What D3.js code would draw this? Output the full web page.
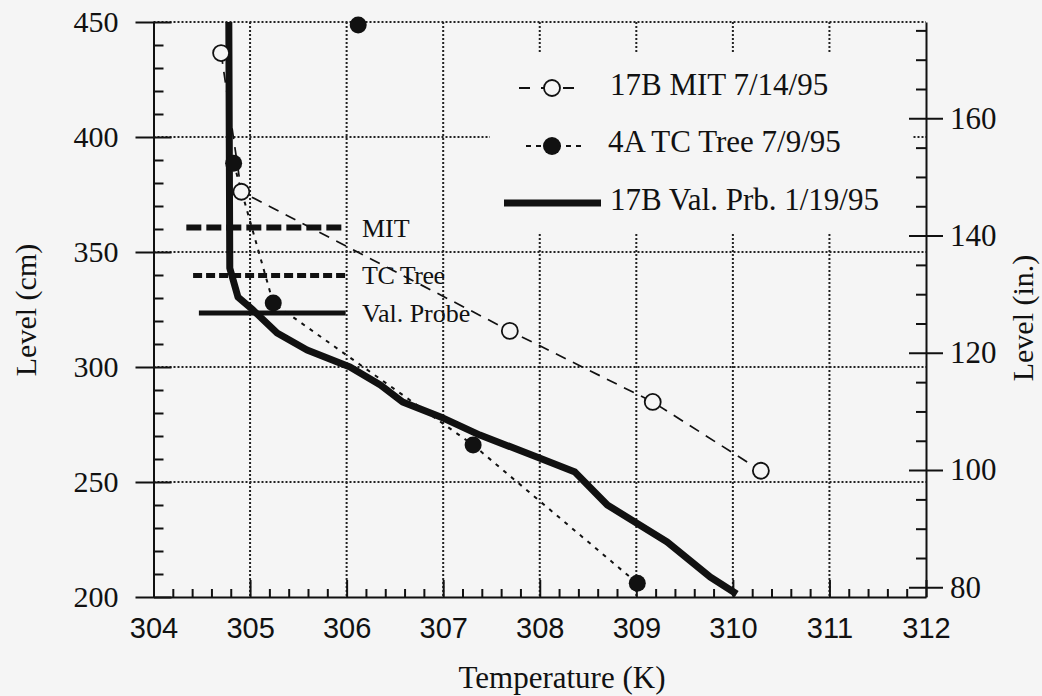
<!DOCTYPE html>
<html><head><meta charset="utf-8">
<script src="https://cdn.jsdelivr.net/npm/d3@7"></script>
<style>body{margin:0;background:#f5f5f5}svg{display:block}</style>
</head><body><svg id="c" width="1042" height="696"></svg>
<script>
// ---- data ----
const mitT = [304.70, 304.91, 307.69, 309.17, 310.29];
const mitL = [436.5, 376.2, 315.7, 284.8, 254.9];
const tcT  = [306.12, 304.83, 305.24, 307.31, 309.01];
const tcL  = [448.7, 388.6, 327.8, 266.1, 206.0];
const tcLineStart = 1; // first TC point is plotted without a connecting line
const valT = [304.78, 304.79, 304.875, 305.03, 305.28, 305.59, 306.035, 306.35, 306.58, 307.00, 307.38, 307.97, 308.365, 308.70, 309.32, 309.765, 310.04];
const valL = [450, 343.0, 330.4, 324.8, 314.8, 307.4, 300.0, 292.2, 284.8, 277.8, 270.4, 260.9, 254.3, 240.0, 223.9, 208.7, 201.3];
const xTicks = [304, 305, 306, 307, 308, 309, 310, 311, 312];
const yTicks = [200, 250, 300, 350, 400, 450];
const inTicks = [80, 100, 120, 140, 160];
const legendLabels = ["17B MIT 7/14/95", "4A TC Tree 7/9/95", "17B Val. Prb. 1/19/95"];
const noteLabels = ["MIT", "TC Tree", "Val. Probe"];

// ---- layout ----
const BG = "#f5f5f5", INK = "#111";
const SERIF = "'Liberation Serif','Times New Roman',serif";
const SANS = "'Liberation Sans',Arial,sans-serif";
const svg = d3.select("#c");
svg.append("rect").attr("width", 1042).attr("height", 696).attr("fill", BG);

const x = d3.scaleLinear().domain([304, 312]).range([153.5, 926]);
const y = d3.scaleLinear().domain([200, 450]).range([597, 22]);
const yIn = d3.scaleLinear().domain([78.35, 176.43]).range([597, 22]);

// grid
const grid = svg.append("g").attr("stroke", "#222").attr("stroke-width", 2).attr("stroke-dasharray", "2,2");
grid.selectAll(".vg").data(xTicks.slice(1, -1)).join("line")
  .attr("x1", d => x(d)).attr("x2", d => x(d)).attr("y1", y(450)).attr("y2", y(200));
grid.selectAll(".hg").data(yTicks.slice(1)).join("line")
  .attr("y1", d => y(d)).attr("y2", d => y(d)).attr("x1", x(304)).attr("x2", x(312));

// legend background (masks grid)
svg.append("rect").attr("x", 490).attr("y", 54).attr("width", 422).attr("height", 178).attr("fill", BG);

// ---- axes ----
function styleAxis(g) {
  g.selectAll("path,line").attr("stroke", INK).attr("stroke-width", 2);
}
// left major
const gl = svg.append("g").attr("transform", `translate(${x(304)},0)`)
  .call(d3.axisLeft(y).tickValues(yTicks).tickSizeInner(18).tickSizeOuter(0).tickPadding(17));
gl.selectAll(".tick line").attr("x1", 18);
gl.selectAll("text").attr("font-family", SERIF).attr("font-size", 30).attr("fill", INK);
styleAxis(gl);
// left minor
const yMinor = d3.range(210, 450, 10).filter(v => v % 50 !== 0);
const glm = svg.append("g").attr("transform", `translate(${x(304)},0)`)
  .call(d3.axisLeft(y).tickValues(yMinor).tickSizeInner(-10).tickSizeOuter(0).tickFormat(""));
glm.select(".domain").remove();
styleAxis(glm);
// bottom major
const gb = svg.append("g").attr("transform", `translate(0,${y(200)})`)
  .call(d3.axisBottom(x).tickValues(xTicks).tickSizeInner(-17).tickSizeOuter(0).tickPadding(20).tickFormat(d3.format("d")));
gb.selectAll("text").attr("font-family", SANS).attr("font-size", 29).attr("fill", INK);
styleAxis(gb);
// bottom minor
const xMinor = d3.range(0, 40).map(i => 304 + i * 0.2).filter(v => Math.abs(v - Math.round(v)) > 0.01);
const gbm = svg.append("g").attr("transform", `translate(0,${y(200)})`)
  .call(d3.axisBottom(x).tickValues(xMinor).tickSizeInner(-8).tickSizeOuter(0).tickFormat(""));
gbm.select(".domain").remove();
styleAxis(gbm);
// right major (inches)
const gr = svg.append("g").attr("transform", `translate(${x(312)},0)`)
  .call(d3.axisRight(yIn).tickValues(inTicks).tickSizeInner(17).tickSizeOuter(0).tickPadding(7));
gr.selectAll(".tick line").attr("x1", -17);
gr.selectAll("text").attr("font-family", SERIF).attr("font-size", 31).attr("fill", INK);
styleAxis(gr);
// right minor
const inMinor = d3.range(80, 180, 5).filter(v => v % 20 !== 0 && yIn(v) > 22);
const grm = svg.append("g").attr("transform", `translate(${x(312)},0)`)
  .call(d3.axisLeft(yIn).tickValues(inMinor).tickSizeInner(10).tickSizeOuter(0).tickFormat(""));
grm.select(".domain").remove();
styleAxis(grm);

// axis titles
svg.append("text").attr("transform", `translate(36,${310}) rotate(-90)`).attr("text-anchor", "middle")
  .attr("font-family", SERIF).attr("font-size", 30).attr("fill", INK).text("Level (cm)");
svg.append("text").attr("transform", `translate(1033,${318}) rotate(-90)`).attr("text-anchor", "middle")
  .attr("font-family", SERIF).attr("font-size", 30).attr("fill", INK).text("Level (in.)");
svg.append("text").attr("x", 562).attr("y", 688).attr("text-anchor", "middle")
  .attr("font-family", SERIF).attr("font-size", 31).attr("fill", INK).text("Temperature (K)");

// ---- annotation keys ----
const notes = [
  {lv: 360.6, w: 6, dash: "15,5", x0: 304.34},
  {lv: 339.8, w: 5, dash: "9,4", x0: 304.41},
  {lv: 323.5, w: 5, dash: null, x0: 304.47}
];
notes.forEach((n, i) => {
  const l = svg.append("line").attr("x1", x(n.x0)).attr("x2", x(305.99))
    .attr("y1", y(n.lv)).attr("y2", y(n.lv)).attr("stroke", INK).attr("stroke-width", n.w);
  if (n.dash) l.attr("stroke-dasharray", n.dash);
  svg.append("text").attr("x", 362).attr("y", y(n.lv) + 9).attr("font-family", SERIF)
    .attr("font-size", 26).attr("fill", INK).attr("letter-spacing", i === 1 ? -0.5 : 0).text(noteLabels[i]);
});

// ---- data lines ----
const line = d3.line().x(d => x(d[0])).y(d => y(d[1]));
const valPts = valT.map((t, i) => [t, valL[i]]);
const mitPts = mitT.map((t, i) => [t, mitL[i]]);
const tcPts = tcT.map((t, i) => [t, tcL[i]]);

svg.append("path").attr("d", line(mitPts)).attr("fill", "none").attr("stroke", INK)
  .attr("stroke-width", 1.7).attr("stroke-dasharray", "11,8");
svg.append("path").attr("d", line(tcPts.slice(tcLineStart))).attr("fill", "none").attr("stroke", INK)
  .attr("stroke-width", 2).attr("stroke-dasharray", "4,6");
svg.append("path").attr("d", line(valPts)).attr("fill", "none").attr("stroke", INK)
  .attr("stroke-width", 7).attr("stroke-linejoin", "round");

svg.selectAll(".mit").data(mitPts).join("circle")
  .attr("cx", d => x(d[0])).attr("cy", d => y(d[1])).attr("r", 8)
  .attr("fill", BG).attr("stroke", INK).attr("stroke-width", 1.8);
svg.selectAll(".tc").data(tcPts).join("circle")
  .attr("cx", d => x(d[0])).attr("cy", d => y(d[1])).attr("r", 8.5).attr("fill", INK);

// ---- legend ----
const lg = svg.append("g");
// MIT
lg.append("line").attr("x1", 519).attr("x2", 575).attr("y1", 88).attr("y2", 88)
  .attr("stroke", INK).attr("stroke-width", 2).attr("stroke-dasharray", "11,11");
lg.append("circle").attr("cx", 552).attr("cy", 88).attr("r", 8).attr("fill", BG).attr("stroke", INK).attr("stroke-width", 1.8);
// TC
lg.append("line").attr("x1", 526).attr("x2", 586).attr("y1", 146).attr("y2", 146)
  .attr("stroke", INK).attr("stroke-width", 2).attr("stroke-dasharray", "5,5");
lg.append("circle").attr("cx", 552).attr("cy", 146).attr("r", 9).attr("fill", INK);
// Val
lg.append("line").attr("x1", 504).attr("x2", 601).attr("y1", 203).attr("y2", 203)
  .attr("stroke", INK).attr("stroke-width", 7);
const lx = [610, 608, 610], ly = [95, 152, 210];
legendLabels.forEach((t, i) => {
  lg.append("text").attr("x", lx[i]).attr("y", ly[i]).attr("font-family", SERIF)
    .attr("font-size", 31).attr("fill", INK).text(t);
});
</script></body></html>
